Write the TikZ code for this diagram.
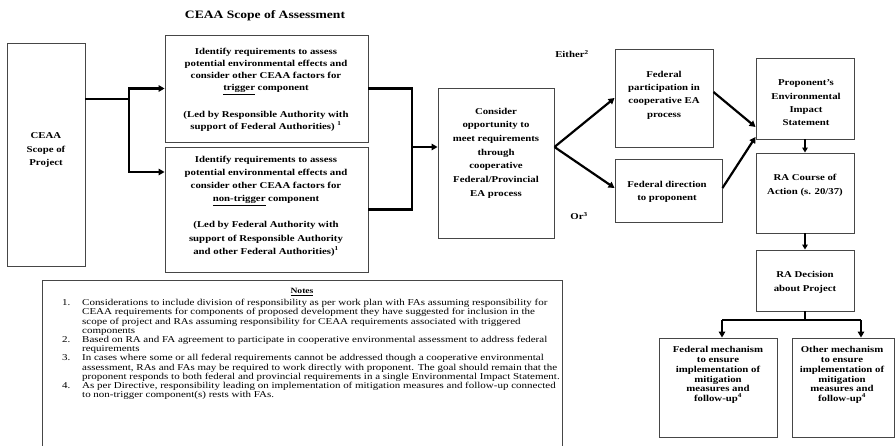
\documentclass[tikz,border=0pt]{standalone}
\usepackage{fontspec}
\setmainfont{Liberation Serif}
\newfontfamily\bxfont[FakeStretch=1.2]{Liberation Serif}
\newfontfamily\ntfont[FakeStretch=1.22]{Liberation Serif}
\usetikzlibrary{arrows.meta}
\begin{document}
\begin{tikzpicture}[x=1pt,y=-1pt,
  box/.style={draw=gray!55!black, line width=0.9pt, fill=white, inner sep=0pt},
  btxt/.style={align=center, inner sep=0pt, font={\bxfont\bfseries\fontsize{9}{#1}\selectfont}},
  btxt/.default=13.3,
  lbl/.style={inner sep=0pt, font={\bxfont\bfseries\fontsize{9}{11}\selectfont}},
  conn/.style={line width=2.4pt},
  arr/.style={line width=2.2pt, -{Triangle[length=6pt,width=6.5pt]}},
  tarr/.style={line width=1.5pt, -{Triangle[length=5pt,width=5.5pt]}}
]
\clip (0,0) rectangle (896,446);
\fill[white] (0,0) rectangle (896,446);

% title
\node[inner sep=0pt, font={\bxfont\bfseries\fontsize{11.3}{13}\selectfont}] (title) at (265,16) {CEAA Scope of Assessment};

% boxes
\node[box, minimum width=78pt, minimum height=223pt] (proj) at (46,154.5) {};
\node[btxt=13.5] (projT) at (46,150) {CEAA\\Scope of\\Project};

\node[box, minimum width=203pt, minimum height=107pt] (trig) at (266.5,88.5) {};
\node[btxt=11.9] (trigT) at (266,90) {Identify requirements to assess\\potential environmental effects and\\consider other CEAA factors for\\\underline{trigger} component\\[15pt](Led by Responsible Authority with\\support of Federal Authorities) \textsuperscript{1}};

\node[box, minimum width=203pt, minimum height=125pt] (nontrig) at (266.5,209.5) {};
\node[btxt=13.2] (nontrigT) at (266,206) {Identify requirements to assess\\potential environmental effects and\\consider other CEAA factors for\\\underline{non-trigger} component\\[13pt](Led by Federal Authority with\\support of Responsible Authority\\and other Federal Authorities)\textsuperscript{1}};

\node[box, minimum width=116pt, minimum height=150pt] (cons) at (496,163) {};
\node[btxt=13.7] (consT) at (496,153) {Consider\\opportunity to\\meet requirements\\through\\cooperative\\Federal/Provincial\\EA process};

\node[box, minimum width=98pt, minimum height=98pt] (fedpart) at (664,98) {};
\node[btxt=13.3] (fedpartT) at (664,95) {Federal\\participation in\\cooperative EA\\process};

\node[box, minimum width=107pt, minimum height=63pt] (feddir) at (668.5,190.5) {};
\node[btxt=13.3] (feddirT) at (667,191.5) {Federal direction\\to proponent};

\node[box, minimum width=98pt, minimum height=81pt] (eis) at (805,98.5) {};
\node[btxt=13.3] (eisT) at (806,103) {Proponent’s\\Environmental\\Impact\\Statement};

\node[box, minimum width=98pt, minimum height=80pt] (course) at (805,193) {};
\node[btxt=14] (courseT) at (805,185) {RA Course of\\Action (s. 20/37)};

\node[box, minimum width=98pt, minimum height=61pt] (decision) at (805,280.5) {};
\node[btxt=14] (decisionT) at (805,282) {RA Decision\\about Project};

\node[box, minimum width=118pt, minimum height=99pt] (fedmech) at (718,387.5) {};
\node[btxt=9.8] (fedmechT) at (718,375) {Federal mechanism\\to ensure\\implementation of\\mitigation\\measures and\\follow-up\textsuperscript{4}};

\node[box, minimum width=102pt, minimum height=99pt] (othmech) at (843,387.5) {};
\node[btxt=9.8] (othmechT) at (842,375) {Other mechanism\\to ensure\\implementation of\\mitigation\\measures and\\follow-up\textsuperscript{4}};

% labels
\node[lbl] (either) at (572,54) {Either\textsuperscript{2}};
\node[lbl] (orlbl) at (579,216) {Or\textsuperscript{3}};

% connectors
\coordinate (s1) at (129,99);
\draw[conn] (proj.east |- s1) -- (s1);
\draw[arr] (s1) |- (trig.west);
\draw[arr] (s1) |- (nontrig.west |- 0,172);

\coordinate (m1) at (412,147);
\draw[conn] (trig.east) -- (m1 |- trig.east) -- (m1 |- nontrig.east) -- (nontrig.east);
\draw[arr] (m1) -- (cons.west |- m1);

\coordinate (f1) at (cons.east |- 0,147);
\draw[arr] (f1) -- (fedpart.west);
\draw[arr] (f1) -- (feddir.west |- 0,188);
\draw[arr] (fedpart.east |- 0,92) -- (eis.west |- 0,127);
\draw[arr] (feddir.east |- 0,188) -- (eis.west |- 0,137);

\draw[tarr] (eis.south) -- (course.north);
\draw[tarr] (course.south) -- (decision.north);

\coordinate (d0) at (805,320);
\coordinate (d1) at (722,320);
\coordinate (d2) at (861,320);
\draw[conn] (decision.south) -- (d0);
\draw[conn] (d1) -- (d2);
\draw[arr] (d1) -- (d1 |- fedmech.north);
\draw[arr] (d2) -- (d2 |- othmech.north);

% notes
\draw[draw=gray!55!black, line width=0.9pt] (42,280) rectangle (562,470);
\node[inner sep=0pt, font={\bxfont\bfseries\fontsize{8}{9}\selectfont}] (notesT) at (302,292) {\underline{Notes}};
\node[anchor=north west, inner sep=0pt, font={\ntfont\fontsize{9}{9.2}\selectfont}] (notes) at (62,299) {%
\begin{tabular}{@{}p{20pt}@{}l@{}}
1. & Considerations to include division of responsibility as per work plan with FAs assuming responsibility for\\
   & CEAA requirements for components of proposed development they have suggested for inclusion in the\\
   & scope of project and RAs assuming responsibility for CEAA requirements associated with triggered\\
   & components\\
2. & Based on RA and FA agreement to participate in cooperative environmental assessment to address federal\\
   & requirements\\
3. & In cases where some or all federal requirements cannot be addressed though a cooperative environmental\\
   & assessment, RAs and FAs may be required to work directly with proponent. The goal should remain that the\\
   & proponent responds to both federal and provincial requirements in a single Environmental Impact Statement.\\
4. & As per Directive, responsibility leading on implementation of mitigation measures and follow-up connected\\
   & to non-trigger component(s) rests with FAs.
\end{tabular}};
\end{tikzpicture}
\end{document}
